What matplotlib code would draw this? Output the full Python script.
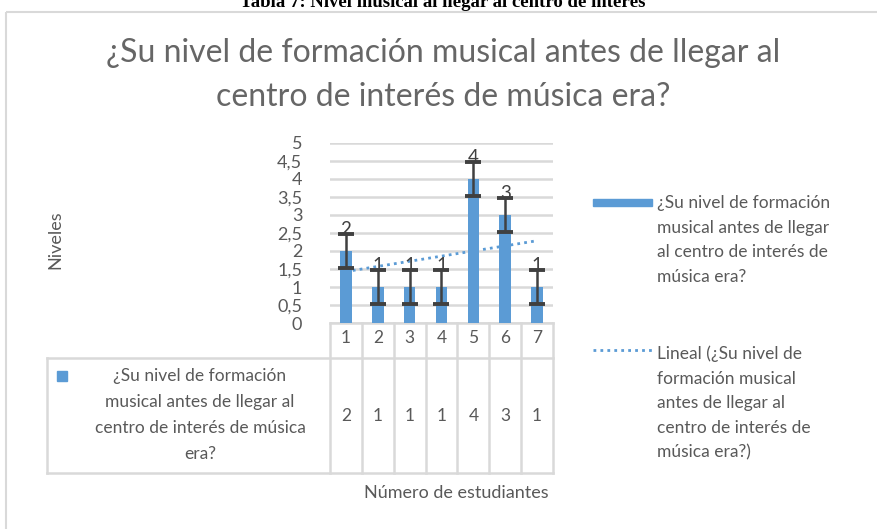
import matplotlib
matplotlib.use("Agg")
import matplotlib.pyplot as plt
import numpy as np
from matplotlib.transforms import blended_transform_factory

plt.rcParams['font.family'] = ['Lato', 'DejaVu Sans']

# data
estudiantes = [1, 2, 3, 4, 5, 6, 7]
niveles = [2, 1, 1, 1, 4, 3, 1]
error_std = 0.46
titulo = '¿Su nivel de formación musical antes de llegar al\ncentro de interés de música era?'
caption = 'Tabla 7: Nivel musical al llegar al centro de interés'
serie_tabla = '¿Su nivel de formación\nmusical antes de llegar al\ncentro de interés de música\nera?'
serie_leyenda = '¿Su nivel de formación\nmusical antes de llegar\nal centro de interés de\nmúsica era?'
tendencia_leyenda = 'Lineal (¿Su nivel de\nformación musical\nantes de llegar al\ncentro de interés de\nmúsica era?)'

BLUE = '#5b9bd5'
GRAY_TXT = '#595959'
GRID = '#d9d9d9'

W, H = 878, 529
fig = plt.figure(figsize=(W / 100, H / 100), dpi=100)

# overlay in pixel coords for frame, table lines and free text
over = fig.add_axes([0, 0, 1, 1])
over.set_xlim(0, W)
over.set_ylim(H, 0)
over.axis('off')

def px_axes(x0, y0, x1, y1):
    return [x0 / W, 1 - y1 / H, (x1 - x0) / W, (y1 - y0) / H]

ax = fig.add_axes(px_axes(330, 143, 553, 323))
ax.set_zorder(2)
ax.patch.set_alpha(0)

x = np.array(estudiantes)
y = np.array(niveles)

# trend line
coef = np.polyfit(x, y, 1)
ax.plot(x, np.polyval(coef, x), linestyle=(0, (1, 1.5)), color=BLUE, lw=2, zorder=1)

ax.bar(x, y, width=0.36, color=BLUE, zorder=2)
ax.errorbar(x, y, yerr=error_std, fmt='none', ecolor='#404040', elinewidth=1.8,
            capsize=6, capthick=2.8, zorder=3)
for xi, yi in zip(x, y):
    ax.text(xi, yi + error_std - 0.1, str(yi), ha='center', va='bottom',
            fontsize=13.5, color='#404040', zorder=4)

ax.set_xlim(0.5, 7.5)
ax.set_ylim(0, 5)
ticks = np.arange(0, 5.01, 0.5)
ax.set_yticks(ticks)
ax.set_yticklabels([('%g' % v).replace('.', ',') for v in ticks])
ax.yaxis.grid(True, color=GRID, lw=1.8)
ax.set_axisbelow(True)
for s in ax.spines.values():
    s.set_visible(False)
ax.tick_params(axis='y', length=0, pad=20, labelsize=13, labelcolor=GRAY_TXT)
ax.set_xticks(x)
ax.set_xticklabels([str(e) for e in estudiantes])
ax.tick_params(axis='x', length=0, pad=5, labelsize=12.5, labelcolor=GRAY_TXT)

# data table
tr = blended_transform_factory(ax.transData, over.transData)
bounds = np.arange(0.5, 7.51, 1)
for b in bounds:
    over.plot([b, b], [323, 473], color=GRID, lw=1.8, transform=tr, clip_on=False)
over.plot([0.5, 7.5], [323, 323], color=GRID, lw=1.8, transform=tr, clip_on=False)
over.plot([47, 553], [358, 358], color=GRID, lw=1.8)
over.plot([47, 553], [473, 473], color=GRID, lw=1.8)
over.plot([47, 47], [358, 473], color=GRID, lw=1.8)
for xi, yi in zip(x, y):
    over.text(xi, 416, str(yi), transform=tr, ha='center', va='center',
              fontsize=12.5, color=GRAY_TXT)
over.add_patch(plt.Rectangle((57, 371), 10, 10, color=BLUE))
over.text(200, 415, serie_tabla, ha='center', va='center', fontsize=12.5,
          color=GRAY_TXT, linespacing=1.75)

# axis titles
over.text(456, 493, 'Número de estudiantes', ha='center', va='center', fontsize=13, color=GRAY_TXT)
over.text(55, 240, 'Niveles', ha='center', va='center', rotation=90, fontsize=13, color=GRAY_TXT)

# chart title and caption (caption is cut at the top, like the source)
over.text(443, 75, titulo, ha='center', va='center', fontsize=23, color='#666666',
          linespacing=1.55)
over.text(443, 7, caption, ha='center', va='baseline', fontsize=13.5, fontweight='bold',
          family='Liberation Serif', color='black')

# legend
over.add_patch(plt.Rectangle((593, 199), 59, 7, color=BLUE))
over.text(657, 240, serie_leyenda, ha='left', va='center', fontsize=12.5,
          color=GRAY_TXT, linespacing=1.65)
over.plot([593, 652], [350, 350], linestyle=(0, (1, 1.5)), color=BLUE, lw=2)
over.text(657, 403, tendencia_leyenda, ha='left', va='center', fontsize=12.5,
          color=GRAY_TXT, linespacing=1.65)

# chart frame
over.add_patch(plt.Rectangle((6, 12), W + 10, H, fill=False, edgecolor=GRID, lw=1.5))

fig.savefig('out.png', dpi=100, facecolor='white')
